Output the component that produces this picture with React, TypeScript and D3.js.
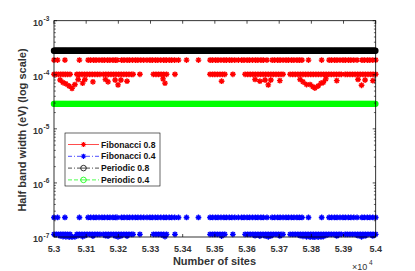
import React from 'react';
import * as d3 from 'd3';

// ---------- data ----------
const xTickValues = [53000, 53100, 53200, 53300, 53400, 53500, 53600, 53700, 53800, 53900, 54000];
const xTickLabels = ['5.3', '5.31', '5.32', '5.33', '5.34', '5.35', '5.36', '5.37', '5.38', '5.39', '5.4'];
const yTickValues = [1e-7, 1e-6, 1e-5, 1e-4, 1e-3];
const yTickExponents = ['-7', '-6', '-5', '-4', '-3'];

// sites on the upper Fibonacci level
const upperSites = [
  53000, 53011, 53034, 53079,
  53106, 53114, 53123, 53131, 53140, 53149, 53157, 53166, 53174, 53183, 53191, 53196,
  53210, 53218, 53227, 53235, 53244, 53253, 53261, 53270, 53279, 53289,
  53298, 53306, 53315, 53323, 53332, 53341, 53349, 53358, 53366, 53375, 53387,
  53412, 53449,
  53485, 53493, 53502, 53510, 53519, 53528, 53536, 53545, 53553, 53562, 53573,
  53583, 53591, 53600, 53608, 53617, 53626, 53634, 53643, 53651, 53662,
  53678, 53686, 53695, 53703, 53712, 53721, 53729, 53738, 53746, 53755, 53763, 53771,
  53791, 53832,
  53855, 53863, 53872, 53880, 53889, 53898, 53906, 53915, 53923, 53932, 53942,
  53957, 53965, 53974, 53982, 53991, 54000,
];
const fib08Upper = 1.87e-4;
const fib04Upper = 2.3e-7;

// sites on the lower Fibonacci level
const lowerSites = [
  53000, 53007, 53014, 53021, 53028, 53035, 53042, 53050,
  53071, 53079, 53087, 53095, 53103, 53111, 53119, 53127, 53135, 53143,
  53153, 53161, 53169, 53177, 53185, 53193, 53201, 53209, 53217, 53225, 53233, 53241, 53246,
  53267,
  53309, 53317, 53325, 53333, 53341, 53350,
  53376,
  53485, 53493, 53500, 53508, 53516, 53524, 53531,
  53556,
  53594, 53602, 53610, 53618, 53626, 53634, 53642, 53650, 53658, 53666, 53674, 53682, 53690, 53698, 53706, 53712,
  53734, 53742, 53750, 53758, 53766, 53774, 53782, 53790, 53798, 53806, 53814, 53822, 53830, 53838, 53846, 53854,
  53862, 53870, 53878, 53886, 53893,
  53905, 53912, 53920, 53928, 53936, 53944, 53952, 53960, 53968, 53976, 53984, 53992, 54000,
];
const fib08Lower = 1.02e-4;
const fib04Lower = 1.12e-7;

// dips below the lower level
const dipSites = [
  53019, 53028, 53037, 53047, 53056, 53065, 53075, 53089, 53096, 53121,
  53160, 53168, 53190, 53199, 53208, 53227, 53339, 53345, 53521, 53625,
  53640, 53656, 53666, 53674, 53702, 53765, 53774, 53785, 53796, 53805,
  53811, 53821, 53830, 53837, 53845, 53879, 53945, 53956, 53967, 53991,
];
const fib08Dips = [
  8.0e-5, 7.2e-5, 6.8e-5, 6.2e-5, 5.6e-5, 6.6e-5, 8.2e-5, 7.0e-5, 8.2e-5, 7.4e-5,
  8.2e-5, 7.4e-5, 8.0e-5, 6.5e-5, 8.0e-5, 7.6e-5, 8.4e-5, 7.0e-5, 7.6e-5, 8.2e-5,
  7.6e-5, 8.0e-5, 6.5e-5, 8.0e-5, 7.8e-5, 8.2e-5, 7.4e-5, 6.6e-5, 6.6e-5, 6.0e-5,
  5.7e-5, 6.2e-5, 7.0e-5, 7.2e-5, 8.4e-5, 7.8e-5, 8.2e-5, 6.4e-5, 8.0e-5, 7.8e-5,
];
const fib04Dips = [
  1.05e-7, 1.02e-7, 1.01e-7, 1.0e-7, 1.0e-7, 1.01e-7, 1.06e-7, 1.02e-7, 1.06e-7, 1.04e-7,
  1.06e-7, 1.04e-7, 1.05e-7, 1.01e-7, 1.05e-7, 1.04e-7, 1.07e-7, 1.02e-7, 1.04e-7, 1.06e-7,
  1.04e-7, 1.05e-7, 1.01e-7, 1.05e-7, 1.05e-7, 1.06e-7, 1.03e-7, 1.01e-7, 1.0e-7, 1.0e-7,
  1.0e-7, 1.0e-7, 1.01e-7, 1.02e-7, 1.07e-7, 1.05e-7, 1.06e-7, 1.01e-7, 1.05e-7, 1.05e-7,
];

// periodic chains: constant half band width at every plotted size
const periodicSites = d3.range(53000, 54001, 3);
const periodic08 = 2.78e-4;
const periodic04 = 2.9e-5;

const legendLabels = ['Fibonacci 0.8', 'Fibonacci 0.4', 'Periodic 0.8', 'Periodic 0.4'];

// ---------- layout ----------
const W = 415, H = 271;
const L = 54, R = 375.7, T = 20.7, B = 237;
const FONT = 'Liberation Sans, Arial, Helvetica, sans-serif';

const x = d3.scaleLinear().domain([53000, 54000]).range([L, R]);
const y = d3.scaleLog().domain([1e-7, 1e-3]).range([B, T]);

function star(cx: number, cy: number, s: number) {
  const k = s * 0.7;
  return `M${cx - s},${cy}H${cx + s}M${cx},${cy - s}V${cy + s}M${cx - k},${cy - k}L${cx + k},${cy + k}M${cx - k},${cy + k}L${cx + k},${cy - k}`;
}

export default function App() {
  const s = 2.9;
  const fib08Pts: [number, number][] = [
    ...upperSites.map((n) => [n, fib08Upper] as [number, number]),
    ...lowerSites.map((n) => [n, fib08Lower] as [number, number]),
    ...dipSites.map((n, i) => [n, fib08Dips[i]] as [number, number]),
  ];
  const fib04Pts: [number, number][] = [
    ...upperSites.map((n) => [n, fib04Upper] as [number, number]),
    ...lowerSites.map((n) => [n, fib04Lower] as [number, number]),
    ...dipSites.map((n, i) => [n, fib04Dips[i]] as [number, number]),
  ];
  const redPath = fib08Pts.map(([n, v]) => star(x(n), y(v), s)).join('');
  const bluePath = fib04Pts.map(([n, v]) => star(x(n), y(v), s)).join('');

  // minor y ticks
  const minor: number[] = [];
  for (let e = -7; e < -3; e++) for (let m = 2; m <= 9; m++) minor.push(m * Math.pow(10, e));

  const legX = 65, legY = 133, legW = 95, legH = 53;
  const rowY = [144.5, 156.3, 168.1, 179.9];

  return (
    <svg width={W} height={H} style={{ position: 'absolute', left: 0, top: 0, background: '#fff' }} fontFamily={FONT}>
      <rect x={0} y={0} width={W} height={H} fill="#fff" />
      {/* data */}
      <path d={redPath} stroke="#ff0000" strokeWidth={1.4} fill="none" />
      <path d={bluePath} stroke="#0000ff" strokeWidth={1.4} fill="none" />
      {periodicSites.map((n, i) => (
        <circle key={'b' + i} cx={x(n)} cy={y(periodic08)} r={2.4} fill="none" stroke="#000" strokeWidth={1.6} />
      ))}
      {periodicSites.map((n, i) => (
        <circle key={'g' + i} cx={x(n)} cy={y(periodic04)} r={2.4} fill="none" stroke="#00ff00" strokeWidth={1.6} />
      ))}

      {/* axes box */}
      <rect x={L} y={T} width={R - L} height={B - T} fill="none" stroke="#000" strokeWidth={0.8} />
      {xTickValues.map((v, i) => (
        <g key={'xt' + i}>
          <line x1={x(v)} x2={x(v)} y1={B} y2={B - 3} stroke="#000" strokeWidth={0.7} />
          <line x1={x(v)} x2={x(v)} y1={T} y2={T + 3} stroke="#000" strokeWidth={0.7} />
          <text x={x(v)} y={252} textAnchor="middle" fontSize={9} fontWeight="bold" fill="#333">{xTickLabels[i]}</text>
        </g>
      ))}
      {yTickValues.map((v, i) => (
        <g key={'yt' + i}>
          <line x1={L} x2={L + 3} y1={y(v)} y2={y(v)} stroke="#000" strokeWidth={0.7} />
          <line x1={R} x2={R - 3} y1={y(v)} y2={y(v)} stroke="#000" strokeWidth={0.7} />
          <text x={43} y={y(v) + 5} textAnchor="end" fontSize={9} fontWeight="bold" fill="#333">10</text>
          <text x={43.5} y={y(v) + 0.5} textAnchor="start" fontSize={6.5} fontWeight="bold" fill="#333">{yTickExponents[i]}</text>
        </g>
      ))}
      {minor.map((v, i) => (
        <g key={'ym' + i}>
          <line x1={L} x2={L + 1.8} y1={y(v)} y2={y(v)} stroke="#000" strokeWidth={0.6} />
          <line x1={R} x2={R - 1.8} y1={y(v)} y2={y(v)} stroke="#000" strokeWidth={0.6} />
        </g>
      ))}

      {/* axis titles */}
      <text x={214.5} y={265} textAnchor="middle" fontSize={11} fontWeight="bold" fill="#333">Number of sites</text>
      <text transform="translate(25.5,130) rotate(-90)" textAnchor="middle" fontSize={11} fontWeight="bold" fill="#333">
        Half band width (eV) (log scale)
      </text>
      <text x={352} y={270} fontSize={9} fill="#333">×10</text>
      <text x={369} y={265} fontSize={6.5} fill="#333">4</text>

      {/* legend */}
      <rect x={legX} y={legY} width={legW} height={legH} fill="#fff" stroke="#000" strokeWidth={0.6} />
      {/* Fibonacci 0.8 */}
      <line x1={68} x2={99} y1={rowY[0]} y2={rowY[0]} stroke="#ff0000" strokeWidth={0.7} />
      <path d={star(83.5, rowY[0], 2.6)} stroke="#ff0000" strokeWidth={1.1} fill="none" />
      {/* Fibonacci 0.4 */}
      <line x1={68} x2={99} y1={rowY[1]} y2={rowY[1]} stroke="#0000ff" strokeWidth={0.7} strokeDasharray="4,2,1,2" />
      <path d={star(83.5, rowY[1], 2.6)} stroke="#0000ff" strokeWidth={1.1} fill="none" />
      {/* Periodic 0.8 */}
      <line x1={68} x2={99} y1={rowY[2]} y2={rowY[2]} stroke="#000" strokeWidth={0.7} strokeDasharray="4,2,1,2" />
      <circle cx={83.5} cy={rowY[2]} r={2.8} fill="#fff" stroke="#000" strokeWidth={0.8} />
      <line x1={80.7} x2={86.3} y1={rowY[2]} y2={rowY[2]} stroke="#000" strokeWidth={0.7} />
      {/* Periodic 0.4 */}
      <line x1={68} x2={99} y1={rowY[3]} y2={rowY[3]} stroke="#00ff00" strokeWidth={0.7} strokeDasharray="4,2" />
      <circle cx={83.5} cy={rowY[3]} r={2.8} fill="#fff" stroke="#00ff00" strokeWidth={0.8} />
      <line x1={80.7} x2={86.3} y1={rowY[3]} y2={rowY[3]} stroke="#00ff00" strokeWidth={0.7} />
      {legendLabels.map((t, i) => (
        <text key={'lg' + i} x={101} y={rowY[i] + 3} fontSize={8.6} fontWeight="bold" fill="#111">{t}</text>
      ))}
    </svg>
  );
}
